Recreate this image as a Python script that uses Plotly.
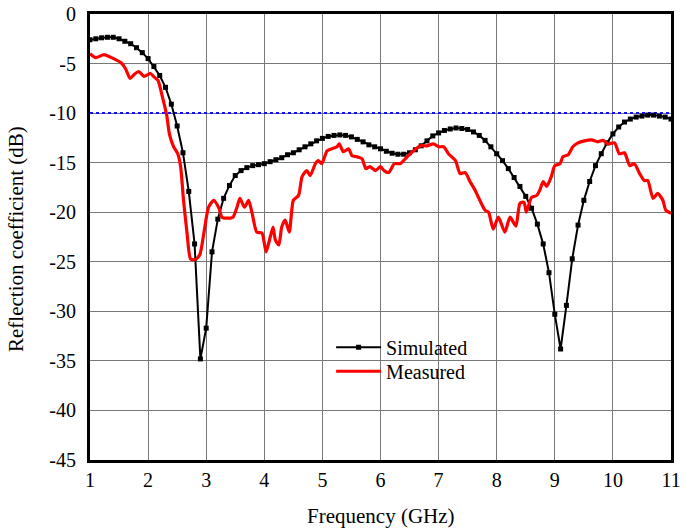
import plotly.graph_objects as go

# Simulated (0.1 GHz steps from 1.0 to 11.0)
sim_freq = [round(1.0 + 0.1 * i, 1) for i in range(101)]
sim_db = [
    -2.6, -2.5, -2.4, -2.35, -2.35, -2.5, -2.75, -3.0, -3.4, -3.9,
    -4.5, -5.3, -6.2, -7.4, -9.1, -11.3, -14.0, -17.9, -23.2, -34.8,
    -31.7, -24.0, -20.7, -18.6, -17.3, -16.3, -15.8, -15.5, -15.3, -15.2,
    -15.1, -14.9, -14.7, -14.5, -14.2, -14.0, -13.7, -13.4, -13.1, -12.8,
    -12.55, -12.35, -12.25, -12.2, -12.25, -12.4, -12.65, -12.9, -13.2, -13.4,
    -13.6, -13.85, -14.05, -14.15, -14.15, -14.0, -13.7, -13.3, -12.8, -12.3,
    -12.0, -11.75, -11.6, -11.5, -11.55, -11.65, -11.9, -12.25, -12.75, -13.4,
    -14.1, -14.8, -15.6, -16.5, -17.4, -18.4, -19.6, -21.2, -23.2, -26.1,
    -30.3, -33.8, -29.4, -24.7, -21.3, -18.8, -16.9, -15.3, -14.1, -13.0,
    -12.1, -11.4, -10.9, -10.6, -10.4, -10.3, -10.2, -10.2, -10.3, -10.4,
    -10.6,
]

meas_freq = [
    1.0, 1.10, 1.24, 1.35, 1.53, 1.61, 1.69, 1.76, 1.84, 1.93, 2.04, 2.11, 2.17,
    2.24, 2.32, 2.37, 2.44, 2.51, 2.56, 2.61, 2.67, 2.73, 2.81, 2.89, 2.96, 3.04,
    3.13, 3.22, 3.27, 3.36, 3.46, 3.53, 3.58, 3.66, 3.73, 3.79, 3.87, 3.96, 4.03,
    4.09, 4.15, 4.19, 4.25, 4.30, 4.36, 4.43, 4.50, 4.59, 4.65, 4.73, 4.79, 4.88,
    4.93, 4.99, 5.08, 5.16, 5.25, 5.29, 5.36, 5.45, 5.51, 5.59, 5.68, 5.75, 5.82,
    5.91, 6.0, 6.06, 6.14, 6.24, 6.34, 6.46, 6.57, 6.69, 6.80, 6.91, 7.0, 7.09,
    7.17, 7.29, 7.37, 7.46, 7.54, 7.63, 7.71, 7.80, 7.86, 7.94, 8.03, 8.14, 8.23,
    8.33, 8.40, 8.47, 8.51, 8.60, 8.69, 8.74, 8.80, 8.86, 8.94, 9.00, 9.09, 9.14,
    9.23, 9.31, 9.40, 9.51, 9.63, 9.74, 9.83, 9.91, 10.03, 10.11, 10.20, 10.29,
    10.37, 10.46, 10.54, 10.60, 10.69, 10.77, 10.86, 10.91, 11.0,
]
meas_db = [
    -4.0, -4.4, -4.1, -4.35, -4.9, -5.5, -6.5, -6.1, -5.8, -6.3, -6.0, -6.4, -6.7,
    -8.2, -10.2, -12.2, -13.4, -14.1, -15.4, -18.8, -22.1, -24.7, -24.8, -24.3, -22.1, -19.5,
    -18.8, -19.6, -20.5, -20.6, -20.5, -19.5, -18.6, -19.5, -18.8, -20.1, -22.0, -22.1, -24.0,
    -22.8, -21.5, -22.8, -23.3, -21.5, -20.8, -22.0, -18.8, -18.3, -16.4, -15.8, -16.3, -15.1,
    -14.8, -15.1, -13.8, -13.6, -13.4, -13.1, -13.9, -13.6, -14.3, -14.4, -14.6, -15.6, -15.4,
    -15.8, -15.4, -15.8, -16.0, -15.1, -15.1, -14.4, -13.8, -13.3, -13.3, -13.1, -13.4, -13.4,
    -14.1, -14.8, -16.1, -16.0, -16.9, -17.8, -18.8, -19.8, -20.0, -21.7, -20.5, -22.0, -20.5,
    -21.4, -19.1, -19.0, -20.0, -18.5, -18.3, -17.8, -16.9, -17.4, -16.4, -15.3, -15.1, -14.4,
    -14.2, -13.4, -13.0, -12.8, -12.7, -12.9, -12.75, -13.1, -13.0, -14.1, -14.0, -15.3,
    -15.1, -16.1, -16.8, -16.8, -18.6, -18.1, -18.8, -19.8, -20.1,
]

ref_freq = [1, 11]
ref_db = [-10, -10]

x_ticks = list(range(1, 12))
y_ticks = list(range(-45, 1, 5))

font_family = "Liberation Serif, Times New Roman, serif"

fig = go.Figure()
fig.add_trace(go.Scatter(
    x=ref_freq, y=ref_db, mode="lines", showlegend=False,
    line=dict(color="#1010ff", width=2, dash="dot"), hoverinfo="skip",
))
fig.add_trace(go.Scatter(
    x=sim_freq, y=sim_db, mode="lines+markers", name="Simulated",
    line=dict(color="black", width=2), legend="legend",
    marker=dict(symbol="square", size=5, color="black"),
))
fig.add_trace(go.Scatter(
    x=meas_freq, y=meas_db, mode="lines", name="Measured", legend="legend2",
    line=dict(color="#ff0000", width=3.2, shape="spline", smoothing=0.6),
))

legend_common = dict(
    xanchor="left", yanchor="middle",
    bgcolor="rgba(0,0,0,0)", font=dict(family=font_family, size=20),
    itemwidth=45,
)

fig.update_layout(
    width=685, height=532,
    margin=dict(l=90, r=14, t=14, b=72),
    paper_bgcolor="white", plot_bgcolor="white",
    font=dict(family=font_family, size=20, color="black"),
    legend=dict(x=0.415, y=0.253, **legend_common),
    legend2=dict(x=0.415, y=0.199, **legend_common),
    xaxis=dict(
        range=[1, 11], tickvals=x_ticks, ticktext=[str(v) for v in x_ticks],
        showgrid=True, gridcolor="#787878", gridwidth=1,
        showline=True, linecolor="black", linewidth=3, mirror=True,
        ticks="", zeroline=False, automargin=False, ticklabeloverflow="allow",
    ),
    yaxis=dict(
        range=[-45, 0], tickvals=y_ticks, ticktext=[str(v) for v in y_ticks],
        showgrid=True, gridcolor="#787878", gridwidth=1,
        showline=True, linecolor="black", linewidth=3, mirror=True,
        ticks="", zeroline=False, ticklabelstandoff=7, automargin=False,
        ticklabeloverflow="allow",
    ),
    annotations=[
        dict(text="Frequency (GHz)", xref="paper", yref="paper",
             x=0.5, y=-0.126, xanchor="center", yanchor="middle",
             showarrow=False, font=dict(family=font_family, size=21)),
        dict(text="Reflection coefficient (dB)", xref="paper", yref="paper",
             x=-0.127, y=0.496, xanchor="center", yanchor="middle", textangle=-90,
             showarrow=False, font=dict(family=font_family, size=21)),
    ],
)

# remove the browser's default 8px page margin so the figure fills the window
fig.write_html(
    "out.html",
    config={"displayModeBar": False},
    post_script="document.body.style.margin='0';",
)
